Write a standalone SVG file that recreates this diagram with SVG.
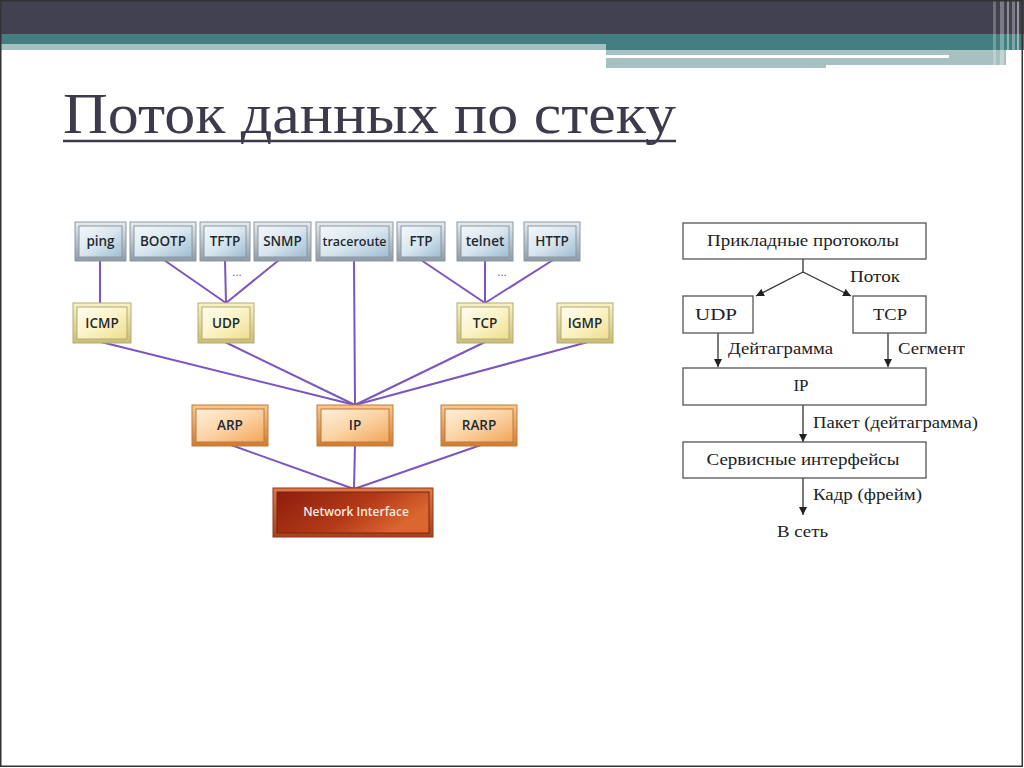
<svg xmlns="http://www.w3.org/2000/svg" width="1024" height="768" viewBox="0 0 1024 768">
<style>
.lbl{font-family:"Open Sans","DejaVu Sans",sans-serif;font-weight:600;font-size:13.5px;fill:#1f2a33;text-anchor:middle}
.ser{font-family:"Liberation Serif","Times New Roman",serif;font-size:17px;fill:#222;}
.mid{text-anchor:middle}
.pl{stroke:#7d55c0;stroke-width:2;fill:none;stroke-linecap:round}
.bl{stroke:#333;stroke-width:1.3;fill:none}
.box{fill:#fff;stroke:#555;stroke-width:1.3}
.fa{stroke:#8a98a4;stroke-width:1}
.fy{stroke:#b5ab70;stroke-width:1}
.fo{stroke:#c07a3a;stroke-width:1}
</style>
<defs>
<linearGradient id="gAppF" x1="0" y1="0" x2="0" y2="1"><stop offset="0" stop-color="#e6ecf0"/><stop offset="1" stop-color="#8e9ba6"/></linearGradient>
<linearGradient id="gApp" x1="0" y1="0" x2="1" y2="1"><stop offset="0" stop-color="#f4f8fb"/><stop offset="0.5" stop-color="#d9e6ef"/><stop offset="1" stop-color="#9fbdd2"/></linearGradient>
<linearGradient id="gYelF" x1="0" y1="0" x2="0" y2="1"><stop offset="0" stop-color="#f8f2c8"/><stop offset="1" stop-color="#c9bd78"/></linearGradient>
<linearGradient id="gYel" x1="0" y1="0" x2="1" y2="1"><stop offset="0" stop-color="#fffdf0"/><stop offset="0.5" stop-color="#fbf3c6"/><stop offset="1" stop-color="#eedd8e"/></linearGradient>
<linearGradient id="gOrF" x1="0" y1="0" x2="0" y2="1"><stop offset="0" stop-color="#f8c890"/><stop offset="1" stop-color="#d07c32"/></linearGradient>
<linearGradient id="gOr" x1="0" y1="0" x2="1" y2="1"><stop offset="0" stop-color="#fff0dc"/><stop offset="0.5" stop-color="#fbd3a4"/><stop offset="1" stop-color="#f2a55a"/></linearGradient>
<linearGradient id="gNiF" x1="0" y1="0" x2="0" y2="1"><stop offset="0" stop-color="#e07a4a"/><stop offset="1" stop-color="#a8401c"/></linearGradient>
<linearGradient id="gNi" x1="0" y1="0" x2="1" y2="0.4"><stop offset="0" stop-color="#8e1e0c"/><stop offset="0.6" stop-color="#b33a18"/><stop offset="1" stop-color="#dd6630"/></linearGradient>
<marker id="ar" viewBox="0 0 10 10" refX="10" refY="5" markerWidth="8" markerHeight="8" orient="auto" markerUnits="userSpaceOnUse"><path d="M0,0 L10,5 L0,10 z" fill="#222"/></marker>
</defs>

<rect x="0" y="0" width="1024" height="768" fill="#fff"/>
<g id="header">
<rect x="0" y="0" width="1024" height="34" fill="#41414f"/>
<rect x="0" y="34" width="1024" height="10" fill="#447e80"/>
<rect x="0" y="44" width="606" height="6" fill="#a7c1c2"/>
<rect x="606" y="44" width="418" height="6" fill="#447e80"/>
<rect x="606" y="50" width="400" height="5" fill="#a7c1c2"/>
<rect x="606" y="55" width="343" height="3" fill="#ffffff"/>
<rect x="949" y="55" width="57" height="3" fill="#a7c1c2"/>
<rect x="606" y="58" width="220" height="10" fill="#a7c1c2"/>
<rect x="826" y="58" width="180" height="7" fill="#a7c1c2"/>
<rect x="993" y="0" width="3" height="66" fill="#ffffff" opacity="0.25"/>
<rect x="1000" y="0" width="4" height="69" fill="#ffffff" opacity="0.3"/>
<rect x="1007" y="0" width="2" height="69" fill="#ffffff" opacity="0.4"/>
<rect x="1012" y="0" width="3" height="69" fill="#ffffff" opacity="0.3"/>
<rect x="1017" y="0" width="2" height="69" fill="#ffffff" opacity="0.45"/>
</g>
<rect x="0.75" y="0.75" width="1021.5" height="765.5" fill="none" stroke="#333" stroke-width="1.5"/>

<g id="title">
<text x="63" y="133" font-family="Liberation Serif, Times New Roman, serif" font-size="58" fill="#3b3b4c" textLength="613" lengthAdjust="spacingAndGlyphs">Поток данных по стеку</text>
<line x1="63" y1="141" x2="676" y2="141" stroke="#3b3b4c" stroke-width="2.5"/>
</g>

<g id="connectors-left">
<line class="pl" x1="100" y1="260" x2="100" y2="303"/>
<line class="pl" x1="164" y1="260" x2="226" y2="303"/>
<line class="pl" x1="225" y1="260" x2="226" y2="303"/>
<line class="pl" x1="279" y1="260" x2="226" y2="303"/>
<line class="pl" x1="421" y1="260" x2="485" y2="303"/>
<line class="pl" x1="485" y1="260" x2="485" y2="303"/>
<line class="pl" x1="553" y1="260" x2="485" y2="303"/>
<line class="pl" x1="101" y1="342" x2="355" y2="405"/>
<line class="pl" x1="225" y1="342" x2="355" y2="405"/>
<line class="pl" x1="354" y1="260" x2="355" y2="405"/>
<line class="pl" x1="485" y1="342" x2="355" y2="405"/>
<line class="pl" x1="588" y1="342" x2="355" y2="405"/>
<line class="pl" x1="231" y1="445" x2="354" y2="489"/>
<line class="pl" x1="355" y1="445" x2="354" y2="489"/>
<line class="pl" x1="481" y1="445" x2="354" y2="489"/>
</g>
<text x="237" y="276" font-family="DejaVu Sans, sans-serif" font-size="10" fill="#555" text-anchor="middle">...</text>
<text x="502" y="276" font-family="DejaVu Sans, sans-serif" font-size="10" fill="#555" text-anchor="middle">...</text>

<g id="n-ping"><rect class="fa" x="75" y="222" width="51" height="39" fill="url(#gAppF)"/><rect class="fa" x="79" y="226" width="43" height="31" fill="url(#gApp)"/><text class="lbl" x="100.5" y="246">ping</text></g>
<g id="n-bootp"><rect class="fa" x="130" y="222" width="66" height="39" fill="url(#gAppF)"/><rect class="fa" x="134" y="226" width="58" height="31" fill="url(#gApp)"/><text class="lbl" x="163" y="246">BOOTP</text></g>
<g id="n-tftp"><rect class="fa" x="200" y="222" width="50" height="39" fill="url(#gAppF)"/><rect class="fa" x="204" y="226" width="42" height="31" fill="url(#gApp)"/><text class="lbl" x="225" y="246">TFTP</text></g>
<g id="n-snmp"><rect class="fa" x="254" y="222" width="57" height="39" fill="url(#gAppF)"/><rect class="fa" x="258" y="226" width="49" height="31" fill="url(#gApp)"/><text class="lbl" x="282.5" y="246">SNMP</text></g>
<g id="n-traceroute"><rect class="fa" x="316" y="222" width="77" height="39" fill="url(#gAppF)"/><rect class="fa" x="320" y="226" width="69" height="31" fill="url(#gApp)"/><text class="lbl" x="354.5" y="246" font-size="12.5" style="font-size:12.5px">traceroute</text></g>
<g id="n-ftp"><rect class="fa" x="397" y="222" width="48" height="39" fill="url(#gAppF)"/><rect class="fa" x="401" y="226" width="40" height="31" fill="url(#gApp)"/><text class="lbl" x="421" y="246">FTP</text></g>
<g id="n-telnet"><rect class="fa" x="457" y="222" width="56" height="39" fill="url(#gAppF)"/><rect class="fa" x="461" y="226" width="48" height="31" fill="url(#gApp)"/><text class="lbl" x="485" y="246">telnet</text></g>
<g id="n-http"><rect class="fa" x="524" y="222" width="56" height="39" fill="url(#gAppF)"/><rect class="fa" x="528" y="226" width="48" height="31" fill="url(#gApp)"/><text class="lbl" x="552" y="246">HTTP</text></g>

<g id="n-icmp"><rect class="fy" x="73" y="303" width="58" height="40" fill="url(#gYelF)"/><rect class="fy" x="77" y="307" width="50" height="32" fill="url(#gYel)"/><text class="lbl" x="102" y="328">ICMP</text></g>
<g id="n-udp"><rect class="fy" x="198" y="303" width="56" height="40" fill="url(#gYelF)"/><rect class="fy" x="202" y="307" width="48" height="32" fill="url(#gYel)"/><text class="lbl" x="226" y="328">UDP</text></g>
<g id="n-tcp"><rect class="fy" x="457" y="303" width="56" height="40" fill="url(#gYelF)"/><rect class="fy" x="461" y="307" width="48" height="32" fill="url(#gYel)"/><text class="lbl" x="485" y="328">TCP</text></g>
<g id="n-igmp"><rect class="fy" x="557" y="303" width="56" height="40" fill="url(#gYelF)"/><rect class="fy" x="561" y="307" width="48" height="32" fill="url(#gYel)"/><text class="lbl" x="585" y="328">IGMP</text></g>

<g id="n-arp"><rect class="fo" x="192" y="405" width="76" height="41" fill="url(#gOrF)"/><rect class="fo" x="196" y="409" width="68" height="33" fill="url(#gOr)"/><text class="lbl" x="230" y="430">ARP</text></g>
<g id="n-ip"><rect class="fo" x="317" y="405" width="76" height="41" fill="url(#gOrF)"/><rect class="fo" x="321" y="409" width="68" height="33" fill="url(#gOr)"/><text class="lbl" x="355" y="430">IP</text></g>
<g id="n-rarp"><rect class="fo" x="441" y="405" width="76" height="41" fill="url(#gOrF)"/><rect class="fo" x="445" y="409" width="68" height="33" fill="url(#gOr)"/><text class="lbl" x="479" y="430">RARP</text></g>

<g id="n-netif"><rect x="273" y="488" width="160" height="49" fill="url(#gNiF)" stroke="#8a3a20" stroke-width="1"/><rect x="277" y="492" width="152" height="41" fill="url(#gNi)" stroke="#7a2410" stroke-width="1"/><text class="lbl" x="356" y="516" style="font-size:12px;fill:#fbe9e0">Network Interface</text></g>

<g id="connectors-right">
<polyline class="bl" points="803,259 803,272"/>
<line class="bl" x1="803" y1="272" x2="756" y2="296" marker-end="url(#ar)"/>
<line class="bl" x1="803" y1="272" x2="851" y2="296" marker-end="url(#ar)"/>
<line class="bl" x1="718" y1="333" x2="718" y2="367" marker-end="url(#ar)"/>
<line class="bl" x1="888" y1="333" x2="888" y2="367" marker-end="url(#ar)"/>
<line class="bl" x1="803" y1="405" x2="803" y2="442" marker-end="url(#ar)"/>
<line class="bl" x1="803" y1="478" x2="803" y2="515" marker-end="url(#ar)"/>
</g>
<g id="r-app"><rect class="box" x="683" y="223" width="243" height="36"/><text class="ser mid" x="803" y="246" textLength="192" lengthAdjust="spacingAndGlyphs">Прикладные протоколы</text></g>
<g id="r-udp"><rect class="box" x="683" y="296" width="70" height="37"/><text class="ser mid" x="716" y="320" textLength="42" lengthAdjust="spacingAndGlyphs">UDP</text></g>
<g id="r-tcp"><rect class="box" x="853" y="296" width="73" height="37"/><text class="ser mid" x="890" y="320" textLength="34" lengthAdjust="spacingAndGlyphs">TCP</text></g>
<g id="r-ip"><rect class="box" x="683" y="368" width="243" height="37"/><text class="ser mid" x="801" y="391">IP</text></g>
<g id="r-svc"><rect class="box" x="683" y="442" width="243" height="36"/><text class="ser mid" x="803" y="465" textLength="193" lengthAdjust="spacingAndGlyphs">Сервисные интерфейсы</text></g>
<text class="ser" x="850" y="282" textLength="50" lengthAdjust="spacingAndGlyphs">Поток</text>
<text class="ser" x="728" y="354" textLength="105" lengthAdjust="spacingAndGlyphs">Дейтаграмма</text>
<text class="ser" x="898" y="354" textLength="67" lengthAdjust="spacingAndGlyphs">Сегмент</text>
<text class="ser" x="813" y="428" textLength="165" lengthAdjust="spacingAndGlyphs">Пакет (дейтаграмма)</text>
<text class="ser" x="813" y="500" textLength="109" lengthAdjust="spacingAndGlyphs">Кадр (фрейм)</text>
<text class="ser" x="777" y="537" textLength="51" lengthAdjust="spacingAndGlyphs">В сеть</text>
</svg>
